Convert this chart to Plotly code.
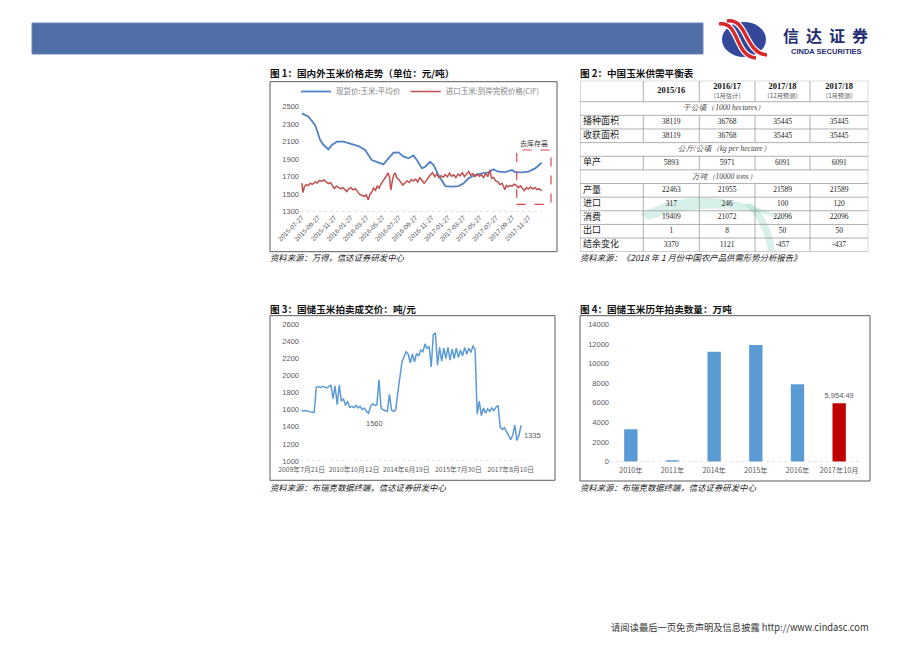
import plotly.graph_objects as go

# ================= DATA =================
# Figure 1: domestic vs imported corn price
spot_dates = ["2015-07-27","2015-08-21","2015-09-15","2015-10-04","2015-10-17","2015-11-04","2015-11-17",
              "2015-12-06","2015-12-31","2016-01-31","2016-02-25","2016-03-21","2016-04-15","2016-05-11",
              "2016-05-29","2016-06-17","2016-07-06","2016-07-25","2016-08-13","2016-09-01","2016-09-19",
              "2016-10-02","2016-10-21","2016-11-02","2016-11-21","2016-12-04","2016-12-22","2017-01-17",
              "2017-02-11","2017-03-08","2017-03-27","2017-04-14","2017-05-09","2017-06-04","2017-06-29",
              "2017-07-17","2017-08-05","2017-08-30","2017-09-24","2017-10-07","2017-11-01","2017-11-26",
              "2017-12-21","2018-01-15"]
spot_price = [2424,2386,2290,2119,2062,2012,2062,2100,2100,2070,2050,2005,1890,1860,1840,1910,1974,1978,
              1930,1910,1944,1890,1795,1814,1871,1833,1719,1593,1586,1593,1624,1681,1719,1738,1750,1784,
              1757,1753,1776,1753,1750,1757,1795,1860]

cif_dates = ["2015-07-27","2015-07-31","2015-08-06","2015-08-13","2015-08-20","2015-08-28","2015-09-05",
             "2015-09-14","2015-09-22","2015-10-01","2015-10-10","2015-10-18","2015-10-26","2015-11-04",
             "2015-11-12","2015-11-20","2015-11-26","2015-12-04","2015-12-12","2015-12-20","2015-12-28",
             "2016-01-05","2016-01-12","2016-01-20","2016-01-28","2016-02-05","2016-02-14","2016-02-22",
             "2016-03-01","2016-03-09","2016-03-17","2016-03-25","2016-04-02","2016-04-08","2016-04-15",
             "2016-04-22","2016-04-29","2016-05-06","2016-05-13","2016-05-21","2016-05-29","2016-06-06",
             "2016-06-16","2016-06-21","2016-06-26","2016-07-02","2016-07-07","2016-07-12","2016-07-18",
             "2016-07-25","2016-08-02","2016-08-10","2016-08-18","2016-08-26","2016-09-03","2016-09-11",
             "2016-09-19","2016-09-27","2016-10-05","2016-10-13","2016-10-21","2016-10-29","2016-11-06",
             "2016-11-14","2016-11-22","2016-11-30","2016-12-08","2016-12-16","2016-12-24","2017-01-01",
             "2017-01-09","2017-01-17","2017-01-25","2017-02-02","2017-02-10","2017-02-18","2017-02-26",
             "2017-03-06","2017-03-14","2017-03-22","2017-03-30","2017-04-07","2017-04-15","2017-04-23",
             "2017-05-01","2017-05-09","2017-05-17","2017-05-25","2017-06-02","2017-06-10","2017-06-18",
             "2017-06-26","2017-07-04","2017-07-10","2017-07-18","2017-07-26","2017-08-03","2017-08-11",
             "2017-08-19","2017-08-29","2017-09-04","2017-09-11","2017-09-18","2017-09-25","2017-10-03",
             "2017-10-11","2017-10-19","2017-10-27","2017-11-04","2017-11-10","2017-11-18","2017-11-26",
             "2017-12-04","2017-12-12","2017-12-20","2017-12-28","2018-01-05","2018-01-15"]
cif_price = [1625,1520,1590,1610,1598,1625,1612,1640,1628,1655,1648,1662,1640,1622,1632,1600,1565,1592,
             1575,1560,1578,1555,1530,1562,1575,1550,1562,1530,1498,1488,1475,1492,1435,1500,1522,1570,
             1545,1592,1570,1622,1660,1700,1742,1690,1548,1660,1722,1742,1690,1672,1640,1605,1628,1652,
             1635,1668,1650,1672,1640,1690,1660,1625,1652,1690,1722,1745,1700,1732,1690,1712,1695,1725,
             1700,1740,1705,1722,1690,1732,1710,1745,1700,1730,1762,1715,1735,1700,1732,1705,1722,1690,
             1742,1700,1778,1680,1692,1650,1642,1610,1625,1550,1600,1585,1602,1590,1615,1600,1575,1595,
             1570,1540,1575,1560,1582,1560,1575,1555,1562,1540]
fig1_ticks = ["2015-07-27","2015-09-27","2015-11-27","2016-01-27","2016-03-27","2016-05-27","2016-07-27",
              "2016-09-27","2016-11-27","2017-01-27","2017-03-27","2017-05-27","2017-07-27","2017-09-27",
              "2017-11-27"]
fig1_series_names = ["现货价:玉米:平均价", "进口玉米:到岸完税价格(CIF)"]
fig1_box_label = "去库存高"

# Figure 2: supply/demand balance table
tbl_cols = ["2015/16", "2016/17", "2017/18", "2017/18"]
tbl_col_notes = ["", "（1月估计）", "（12月预测）", "（1月预测）"]
tbl_row_labels = ["千公顷（1000 hectares）", "播种面积", "收获面积", "公斤/公顷（kg per hectare）", "单产",
                  "万吨（10000 tons）", "产量", "进口", "消费", "出口", "结余变化"]
tbl_is_unit = [True, False, False, True, False, True, False, False, False, False, False]
tbl_values = [None,
              [38119, 36768, 35445, 35445],
              [38119, 36768, 35445, 35445],
              None,
              [5893, 5971, 6091, 6091],
              None,
              [22463, 21955, 21589, 21589],
              [317, 246, 100, 120],
              [19409, 21072, 22096, 22096],
              [1, 8, 50, 50],
              [3370, 1121, -457, -437]]

# Figure 3: state reserve corn auction price (category axis)
fig3_price = [1590,1585,1590,1580,1575,1570,1570,1865,1870,1860,1875,1865,1855,1870,1890,1730,1880,1660,
              1890,1700,1730,1650,1700,1630,1640,1625,1650,1620,1640,1600,1620,1580,1560,1640,1670,1650,
              1660,1950,1620,1600,1590,1580,1780,1600,1580,1600,1800,2000,2160,2220,2280,2250,2150,2250,
              2160,2260,2230,2300,2280,2370,2320,2340,2100,2480,2500,2120,2330,2170,2320,2200,2330,2180,
              2310,2200,2320,2210,2300,2230,2330,2250,2320,2270,2350,2300,1550,1700,1530,1620,1560,1610,
              1580,1620,1590,1630,1650,1400,1370,1390,1350,1300,1250,1300,1420,1240,1300,1420]
fig3_tick_idx = [0, 25, 50, 75, 100]
fig3_tick_text = ["2009年7月21日", "2010年10月12日", "2014年6月19日", "2015年7月30日", "2017年8月10日"]
fig3_end_label = "1335"

# Figure 4: auction volume by year
fig4_cats = ["2010年", "2011年", "2014年", "2015年", "2016年", "2017年10月"]
fig4_vals = [3300, 160, 11200, 11900, 7880, 5954.49]

# ================= LAYOUT HELPERS =================
W, H = 920, 651
OX, OY = 8, 8          # page body margin of the html page
def fx(p): return (p - OX) / W
def fy(p): return 1 - (p - OY) / H
def pt(x, y): return f"{fx(x):.5f},{fy(y):.5f}"

BLUE1 = "#4f81c4"
RED1 = "#c0504d"
BLUE3 = "#5b9bd5"
TICK = dict(family="Liberation Sans, Arial, sans-serif", size=7.5, color="#595959")
CJK = "Noto Sans CJK SC, sans-serif"
SERIF = "Liberation Serif, Times New Roman, serif"

fig = go.Figure()

# ---------- Figure 1 traces ----------
fig.add_trace(go.Scatter(x=spot_dates, y=spot_price, mode="lines", name=fig1_series_names[0],
                         line=dict(color=BLUE1, width=1.8), xaxis="x", yaxis="y", hoverinfo="skip"))
fig.add_trace(go.Scatter(x=cif_dates, y=cif_price, mode="lines", name=fig1_series_names[1],
                         line=dict(color=RED1, width=1.5), xaxis="x", yaxis="y", hoverinfo="skip"))

# ---------- Figure 3 trace ----------
idx3 = list(range(len(fig3_price)))
fig.add_trace(go.Scatter(x=idx3, y=fig3_price, mode="lines", line=dict(color=BLUE3, width=1.5),
                         xaxis="x2", yaxis="y2", showlegend=False, hoverinfo="skip"))

# ---------- Figure 4 bars ----------
bar_colors = [BLUE3] * (len(fig4_cats) - 1) + ["#c00000"]
bar_text = [""] * (len(fig4_cats) - 1) + [f"{fig4_vals[-1]:,.2f}"]
fig.add_trace(go.Bar(x=fig4_cats, y=fig4_vals, marker=dict(color=bar_colors, line=dict(width=0)),
                     text=bar_text, textposition="outside", cliponaxis=False, constraintext="none",
                     textfont=dict(family="Liberation Sans, Arial", size=7.5, color="#595959"),
                     xaxis="x3", yaxis="y3", showlegend=False, hoverinfo="skip"))

# ---------- Figure 2 table (drawn on its own axes) ----------
col_edges = [0, 63.3, 119.3, 175, 230, 288.3]
hdr_h = 21
row_h = (171 - hdr_h) / len(tbl_row_labels)
row_edges = [hdr_h + i * row_h for i in range(len(tbl_row_labels) + 1)]
col_centers = [(col_edges[i] + col_edges[i + 1]) / 2 for i in range(1, 5)]
row_centers = [(row_edges[i] + row_edges[i + 1]) / 2 for i in range(len(tbl_row_labels))]

hx_single, hy_single, ht_single = [], [], []
hx_main, hy_main, ht_main = [], [], []
hx_note, hy_note, ht_note = [], [], []
for c, (name, note) in enumerate(zip(tbl_cols, tbl_col_notes)):
    if note:
        hx_main.append(col_centers[c]); hy_main.append(6.5); ht_main.append(name)
        hx_note.append(col_centers[c]); hy_note.append(15.3); ht_note.append(note)
    else:
        hx_single.append(col_centers[c]); hy_single.append(hdr_h / 2); ht_single.append(name)
fig.add_trace(go.Scatter(x=hx_single + hx_main, y=hy_single + hy_main, text=ht_single + ht_main, mode="text",
                         textfont=dict(family=SERIF, size=8.5, color="#111", weight="bold"),
                         xaxis="x4", yaxis="y4", showlegend=False, hoverinfo="skip"))
fig.add_trace(go.Scatter(x=hx_note, y=hy_note, text=ht_note, mode="text",
                         textfont=dict(family=CJK, size=6.2, color="#555"),
                         xaxis="x4", yaxis="y4", showlegend=False, hoverinfo="skip"))

lab_x, lab_y, lab_t = [], [], []
unit_x, unit_y, unit_t = [], [], []
num_x, num_y, num_t = [], [], []
for r, (lab, unit, vals) in enumerate(zip(tbl_row_labels, tbl_is_unit, tbl_values)):
    if unit:
        unit_x.append(col_edges[-1] / 2); unit_y.append(row_centers[r]); unit_t.append(lab)
    else:
        lab_x.append(3); lab_y.append(row_centers[r]); lab_t.append(lab)
        for c, v in enumerate(vals):
            num_x.append(col_centers[c]); num_y.append(row_centers[r]); num_t.append(str(v))
fig.add_trace(go.Scatter(x=lab_x, y=lab_y, text=lab_t, mode="text", textposition="middle right",
                         textfont=dict(family=CJK, size=9, color="#222"),
                         xaxis="x4", yaxis="y4", showlegend=False, hoverinfo="skip"))
fig.add_trace(go.Scatter(x=unit_x, y=unit_y, text=unit_t, mode="text",
                         textfont=dict(family=SERIF, size=7.5, color="#444", style="italic"),
                         xaxis="x4", yaxis="y4", showlegend=False, hoverinfo="skip"))
fig.add_trace(go.Scatter(x=num_x, y=num_y, text=num_t, mode="text",
                         textfont=dict(family=SERIF, size=7.5, color="#222"),
                         xaxis="x4", yaxis="y4", showlegend=False, hoverinfo="skip"))

shapes = []
GRID = dict(color="#9a9a9a", width=0.8)
for y in [0] + row_edges:
    shapes.append(dict(type="line", xref="x4", yref="y4", x0=0, x1=col_edges[-1], y0=y, y1=y, line=GRID))
vert_bands = [(0, hdr_h, False)] + [(row_edges[i], row_edges[i + 1], tbl_is_unit[i]) for i in range(len(tbl_row_labels))]
for y0, y1, unit in vert_bands:
    edges = [col_edges[0], col_edges[-1]] if unit else col_edges
    for xe in edges:
        shapes.append(dict(type="line", xref="x4", yref="y4", x0=xe, x1=xe, y0=y0, y1=y1, line=GRID))

# watermark swirl in the table
shapes.append(dict(type="path", xref="paper", yref="paper", layer="below", opacity=0.35,
                   fillcolor="#8fd3c2", line=dict(width=0),
                   path=f"M{pt(640,214)} Q{pt(705,178)} {pt(792,222)} Q{pt(715,196)} {pt(648,220)} Z"))
shapes.append(dict(type="path", xref="paper", yref="paper", layer="below", opacity=0.35,
                   fillcolor="#8fd3c2", line=dict(width=0),
                   path=f"M{pt(745,204)} Q{pt(765,226)} {pt(768,251)} L{pt(775,251)} Q{pt(772,222)} {pt(752,203)} Z"))

# page header bar
shapes.append(dict(type="rect", xref="paper", yref="paper", x0=fx(32), x1=fx(703), y0=fy(54), y1=fy(23),
                   fillcolor="#4f6fa6", line=dict(color="#6a86b8", width=1)))
# logo
shapes.append(dict(type="circle", xref="paper", yref="paper", x0=fx(722), x1=fx(766), y0=fy(57), y1=fy(22),
                   fillcolor="#33479b", line=dict(width=0)))
logo_paths = [f"M{pt(719,24)} C{pt(740,21)} {pt(734,56)} {pt(756,58)}",
              f"M{pt(727,21)} C{pt(748,18)} {pt(744,53)} {pt(767,55)}"]
for p in logo_paths:
    shapes.append(dict(type="path", xref="paper", yref="paper", path=p, line=dict(color="white", width=6)))
for p in logo_paths:
    shapes.append(dict(type="path", xref="paper", yref="paper", path=p, line=dict(color="#d7262c", width=3.5)))

# chart boxes
for (x0, y0, x1, y1) in [(270, 81.7, 557, 251.7), (270, 315.7, 555, 480.3), (580, 315.7, 870, 481)]:
    shapes.append(dict(type="rect", xref="paper", yref="paper", x0=fx(x0), x1=fx(x1), y0=fy(y1), y1=fy(y0),
                       line=dict(color="#5a5a5a", width=1), fillcolor="rgba(0,0,0,0)"))

# dotted baselines
for xr, yr, yv in [("x domain", "y", 1300), ("x2 domain", "y2", 1000), ("x3 domain", "y3", 0)]:
    shapes.append(dict(type="line", xref=xr, yref=yr, x0=0, x1=1, y0=yv, y1=yv,
                       line=dict(color="#cfcfcf", width=1, dash="dot")))

# dashed red box (figure 1)
shapes.append(dict(type="rect", xref="paper", yref="paper", x0=fx(516.7), x1=fx(551), y0=fy(204.3), y1=fy(150),
                   line=dict(color="#e0474c", width=1.2, dash="dash"), fillcolor="rgba(0,0,0,0)"))

# ---------- annotations ----------
ann = []
def text(x, y, s, size, color="#111", family=CJK, xanchor="left", weight="normal", style="normal"):
    ann.append(dict(x=fx(x), y=fy(y), xref="paper", yref="paper", text=s, showarrow=False,
                    xanchor=xanchor, yanchor="middle",
                    font=dict(family=family, size=size, color=color, weight=weight, style=style)))

text(268, 73, "图 1：国内外玉米价格走势（单位：元/吨）", 9.6, weight="bold")
text(578, 73, "图 2：中国玉米供需平衡表", 9.6, weight="bold")
text(268, 309, "图 3：国储玉米拍卖成交价：吨/元", 9.6, weight="bold")
text(578, 309, "图 4：国储玉米历年拍卖数量：万吨", 9.6, weight="bold")
text(268, 257, "资料来源：万得，信达证券研发中心", 8.4, color="#222", style="italic")
text(578, 257, "资料来源：《2018 年 1 月份中国农产品供需形势分析报告》", 8.4, color="#222", style="italic")
text(268, 487, "资料来源：布瑞克数据终端，信达证券研发中心", 8.4, color="#222", style="italic")
text(578, 487, "资料来源：布瑞克数据终端，信达证券研发中心", 8.4, color="#222", style="italic")
text(534, 143, fig1_box_label, 7, color="#333", xanchor="center")
text(740, 627, "请阅读最后一页免责声明及信息披露 http://www.cindasc.com", 9.3, color="#333", xanchor="center")

# logo text
for i, ch in enumerate("信达证券"):
    text(791 + i * 23, 35, ch, 16, color="#1e2c72", xanchor="center", weight="bold")
text(826, 51.5, "CINDA SECURITIES", 7.5, color="#1e2c72", family="Liberation Sans, Arial", xanchor="center", weight="bold")

# figure 3 data labels
imin = min(range(45), key=lambda i: fig3_price[i])
ann.append(dict(x=imin, y=fig3_price[imin], xref="x2", yref="y2", text=str(fig3_price[imin]), showarrow=False,
                xshift=6, yshift=-10, font=dict(family="Liberation Sans, Arial", size=7.5, color="#595959")))
ann.append(dict(x=idx3[-1], y=fig3_price[-1], xref="x2", yref="y2", text=fig3_end_label, showarrow=False,
                xanchor="left", xshift=1, yshift=-10, font=dict(family="Liberation Sans, Arial", size=7.5, color="#595959")))

axis_common = dict(showgrid=False, zeroline=False, showline=False, ticks="", tickfont=TICK, automargin=False)

fig.update_layout(
    width=W, height=H, margin=dict(l=0, r=0, t=0, b=0, pad=0, autoexpand=False),
    paper_bgcolor="white", plot_bgcolor="rgba(0,0,0,0)",
    showlegend=True,
    legend=dict(orientation="h", x=fx(296), y=fy(91.5), xanchor="left", yanchor="middle",
                font=dict(family=CJK, size=7.5, color="#7f7f7f"), bgcolor="rgba(0,0,0,0)",
                itemwidth=30, tracegroupgap=0),
    xaxis=dict(domain=[fx(300), fx(542)], type="date", range=["2015-07-20", "2018-01-16"],
               tickvals=fig1_ticks, ticktext=fig1_ticks, tickangle=-45, anchor="y",
               **{**axis_common, "tickfont": dict(family="Liberation Sans, Arial", size=6.5, color="#595959")}),
    yaxis=dict(domain=[fy(211.7), fy(106.7)], range=[1300, 2500], tickvals=list(range(1300, 2501, 200)),
               anchor="x", **axis_common),
    xaxis2=dict(domain=[fx(300), fx(524)], range=[-0.8, 106.4], tickvals=fig3_tick_idx, ticktext=fig3_tick_text,
                tickangle=0, anchor="y2", ticklabelstandoff=3,
                **{**axis_common, "tickfont": dict(family=CJK, size=6.8, color="#595959")}),
    yaxis2=dict(domain=[fy(461), fy(324.3)], range=[1000, 2600], tickvals=list(range(1000, 2601, 200)),
                anchor="x2", **axis_common),
    xaxis3=dict(domain=[fx(610), fx(860)], range=[-0.5, 5.5], anchor="y3", tickangle=0, ticklabelstandoff=3,
                **{**axis_common, "tickfont": dict(family=CJK, size=7.3, color="#595959")}),
    yaxis3=dict(domain=[fy(461.7), fy(324.3)], range=[0, 14000], tickvals=list(range(0, 14001, 2000)),
                tickformat="d", anchor="x3", **axis_common),
    xaxis4=dict(domain=[fx(580), fx(868.3)], range=[0, 288.3], visible=False, anchor="y4", automargin=False),
    yaxis4=dict(domain=[fy(251.7), fy(80.7)], range=[171, 0], visible=False, anchor="x4", automargin=False),
    bargap=0.68,
    shapes=shapes, annotations=ann,
)

fig.write_html("out.html")
